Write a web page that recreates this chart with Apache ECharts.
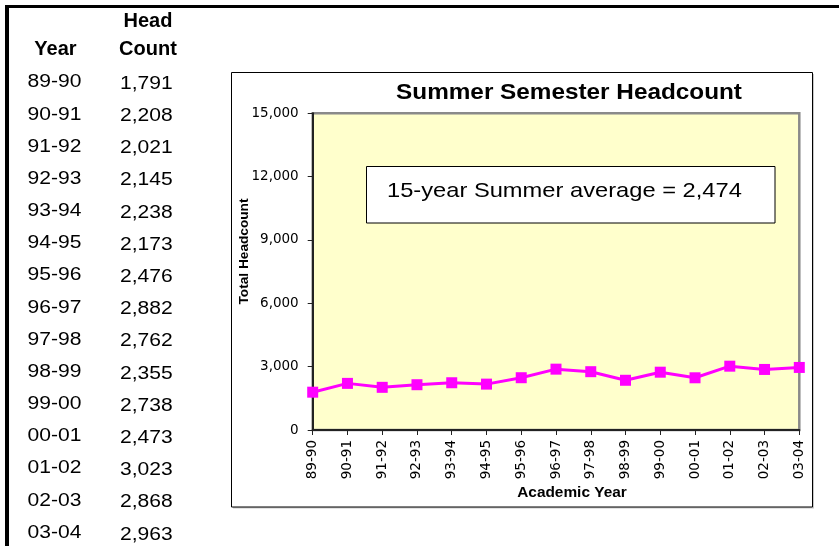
<!DOCTYPE html>
<html>
<head>
<meta charset="utf-8">
<script src="https://cdn.jsdelivr.net/npm/echarts@6/dist/echarts.min.js"></script>
<style>
html,body{margin:0;padding:0;background:#fff;}
#c{width:839px;height:546px;}
</style>
</head>
<body>
<div id="c"></div>
<script>
const years = ['89-90','90-91','91-92','92-93','93-94','94-95','95-96','96-97','97-98','98-99','99-00','00-01','01-02','02-03','03-04'];
const headcount = [1791,2208,2021,2145,2238,2173,2476,2882,2762,2355,2738,2473,3023,2868,2963];
const yMin = 0, yMax = 15000, yStep = 3000;
const titleText = 'Summer Semester Headcount';
const noteText = '15-year Summer average = 2,474';
const yName = 'Total Headcount';
const xName = 'Academic Year';
const tableHeaders = ['Year', 'Head', 'Count'];

const fmt = v => v.toLocaleString('en-US');
const chart = echarts.init(document.getElementById('c'), null, {renderer: 'canvas'});

const graphics = [];
// frame lines
graphics.push({type:'line', shape:{x1:5, y1:6.5, x2:839, y2:6.5}, style:{stroke:'#000', lineWidth:3}, z:10});
graphics.push({type:'line', shape:{x1:7, y1:5, x2:7, y2:546}, style:{stroke:'#000', lineWidth:4}, z:10});
// table headers
graphics.push({type:'text', x:55.5, y:49.5, style:{text:tableHeaders[0], font:'bold 20px "Liberation Sans", Arial', fill:'#000', textAlign:'center', textVerticalAlign:'middle'}});
graphics.push({type:'text', x:148, y:21.7, style:{text:tableHeaders[1], font:'bold 20px "Liberation Sans", Arial', fill:'#000', textAlign:'center', textVerticalAlign:'middle'}});
graphics.push({type:'text', x:148, y:49.7, style:{text:tableHeaders[2], font:'bold 20px "Liberation Sans", Arial', fill:'#000', textAlign:'center', textVerticalAlign:'middle'}});
// table rows
years.forEach((yr, i) => {
  graphics.push({type:'text', x:27.5, y:82.5 + i*32.16, scaleX:1.17, style:{text:yr, font:'18px "Liberation Sans", Arial', fill:'#000', textAlign:'left', textVerticalAlign:'middle'}});
  graphics.push({type:'text', x:120, y:83.8 + i*32.2, scaleX:1.17, style:{text:fmt(headcount[i]), font:'18px "Liberation Sans", Arial', fill:'#000', textAlign:'left', textVerticalAlign:'middle'}});
});
// chart box with shadow
graphics.push({type:'rect', shape:{x:233, y:74, width:581, height:434.5}, style:{fill:'#c8c8c8'}, z:-12});
graphics.push({type:'rect', shape:{x:231.5, y:72.5, width:581, height:434.5}, style:{fill:'#fff', stroke:'#000', lineWidth:1}, z:-11});
// title
graphics.push({type:'text', x:569, y:92.5, scaleX:1.105, style:{text:titleText, font:'bold 22px "Liberation Sans", Arial', fill:'#000', textAlign:'center', textVerticalAlign:'middle'}, z:5});
// annotation box
graphics.push({type:'rect', shape:{x:366.5, y:166.5, width:408.5, height:56.5}, style:{fill:'#fff', stroke:'#000', lineWidth:1}, z:5});
graphics.push({type:'text', x:387, y:191, scaleX:1.128, style:{text:noteText, font:'21px "Liberation Sans", Arial', fill:'#000', textAlign:'left', textVerticalAlign:'middle'}, z:6});
// axis names
graphics.push({type:'text', x:244, y:251.5, rotation:Math.PI/2, scaleX:1.05, style:{text:yName, font:'bold 13px "Liberation Sans", Arial', fill:'#000', textAlign:'center', textVerticalAlign:'middle'}, z:5});
graphics.push({type:'text', x:572, y:492.7, scaleX:1.1, style:{text:xName, font:'bold 14px "Liberation Sans", Arial', fill:'#000', textAlign:'center', textVerticalAlign:'middle'}, z:5});

const option = {
  backgroundColor: '#fff',
  animation: false,
  grid: {
    left: 312.7, top: 113.3, right: 39.7, bottom: 116,
    show: true, backgroundColor: '#FFFFCC', borderColor: '#8a8a8a', borderWidth: 2.5
  },
  xAxis: {
    type: 'category', data: years, boundaryGap: false,
    axisLine: {lineStyle: {color: '#222', width: 2}},
    axisTick: {show: true, inside: false, length: 5, interval: 0, lineStyle: {color: '#222', width: 1}},
    axisLabel: {interval: 0, rotate: 90, margin: 10, color: '#000', fontSize: 13.5, fontFamily: '"DejaVu Sans"'},
    splitLine: {show: false}
  },
  yAxis: {
    type: 'value', min: yMin, max: yMax, interval: yStep,
    axisLine: {show: true, lineStyle: {color: '#222', width: 2}},
    axisTick: {show: true, inside: false, length: 5, lineStyle: {color: '#222', width: 1}},
    axisLabel: {margin: 14, color: '#000', fontSize: 13.5, fontFamily: '"DejaVu Sans"', formatter: v => fmt(v)},
    splitLine: {show: false}
  },
  series: [{
    type: 'line', data: headcount,
    symbol: 'rect', symbolSize: 11,
    lineStyle: {color: '#FF00FF', width: 3},
    itemStyle: {color: '#FF00FF'},
    z: 3
  }],
  graphic: graphics
};
chart.setOption(option);
</script>
</body>
</html>
